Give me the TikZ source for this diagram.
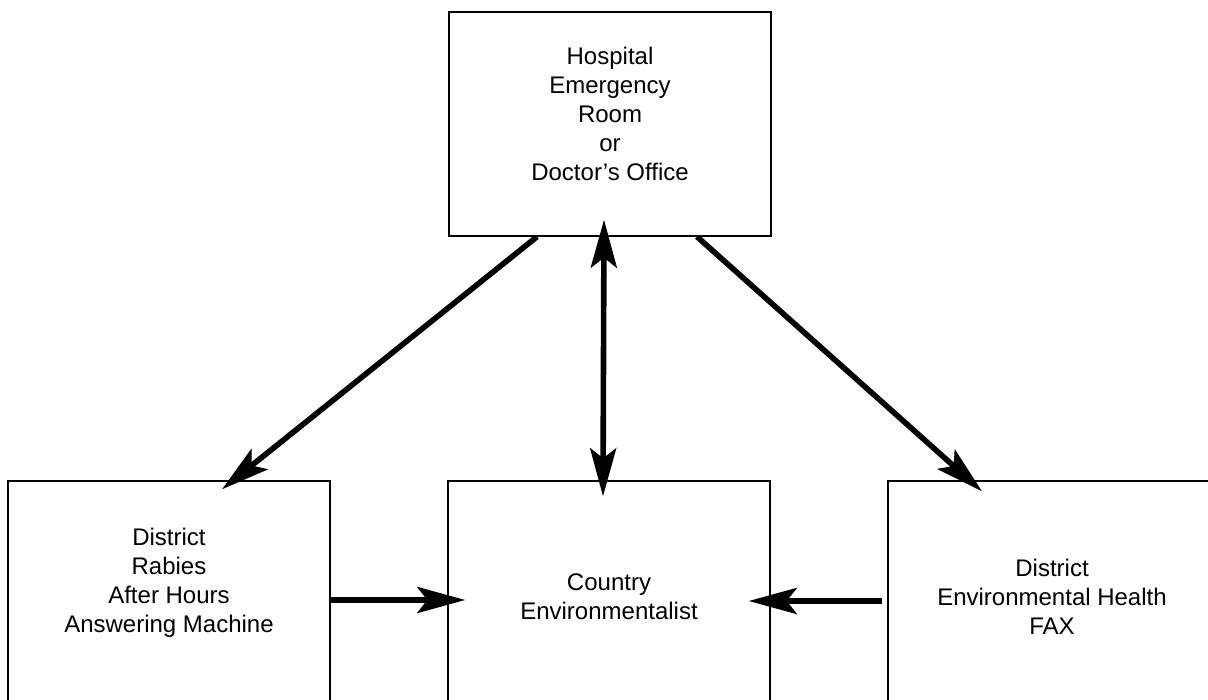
\documentclass[tikz,border=0pt]{standalone}
\usepackage{fontspec}
\setmainfont{Liberation Sans}
\usetikzlibrary{arrows.meta,calc}

\begin{document}
\begin{tikzpicture}[
    x=0.5pt, y=-0.5pt,
    box/.style={rectangle, draw, line width=0.7pt, minimum width=161pt, inner sep=0pt},
    txt/.style={align=center, font=\fontsize{12}{14.5}\selectfont},
    arrow/.style={-{Stealth[length=24pt, width=13pt, inset=5pt]}, line width=2.8pt},
    dblarrow/.style={{Stealth[length=24pt, width=13pt, inset=5pt]}-{Stealth[length=24pt, width=13pt, inset=5pt]}, line width=2.8pt}
]
\useasboundingbox (0,0) rectangle (1208,700);
\clip (0,0) rectangle (1208,700);

% Top: where the patient is seen
\node[box, minimum height=112pt] (hosp) at (610,124) {};
\node[txt] (hosp-txt) at (610,114) {Hospital\\Emergency\\Room\\or\\Doctor's Office};

% Bottom row (boxes run off the page)
\node[box, minimum height=116pt] (rabies) at (169,597) {};
\node[txt] (rabies-txt) at (169,583) {District\\Rabies\\After Hours\\Answering Machine};

\node[box, minimum height=116pt] (envist) at (609,597) {};
\node[txt] (envist-txt) at (609,597) {Country\\Environmentalist};

\node[box, minimum height=116pt] (fax) at (1049,597) {};
\node[txt] (fax-txt) at (1052,597) {District\\Environmental Health\\FAX};

% Arrows from the top box
\draw[arrow] ($(hosp.south)+(-73,0)$) -- ($(rabies.north)+(53,9)$);
\draw[arrow] ($(hosp.south)+(87,0)$) -- ($(fax.north)+(-67,11)$);
\draw[dblarrow] ($(hosp.south)+(-6,-17)$) -- ($(envist.north)+(-6,16)$);

% Side arrows into the middle box
\draw[arrow] ($(rabies.east)+(0,3)$) -- ($(envist.west)+(18,3)$);
\draw[arrow] ($(fax.west)+(-5,4)$) -- ($(envist.east)+(-22,4)$);

\end{tikzpicture}
\end{document}
